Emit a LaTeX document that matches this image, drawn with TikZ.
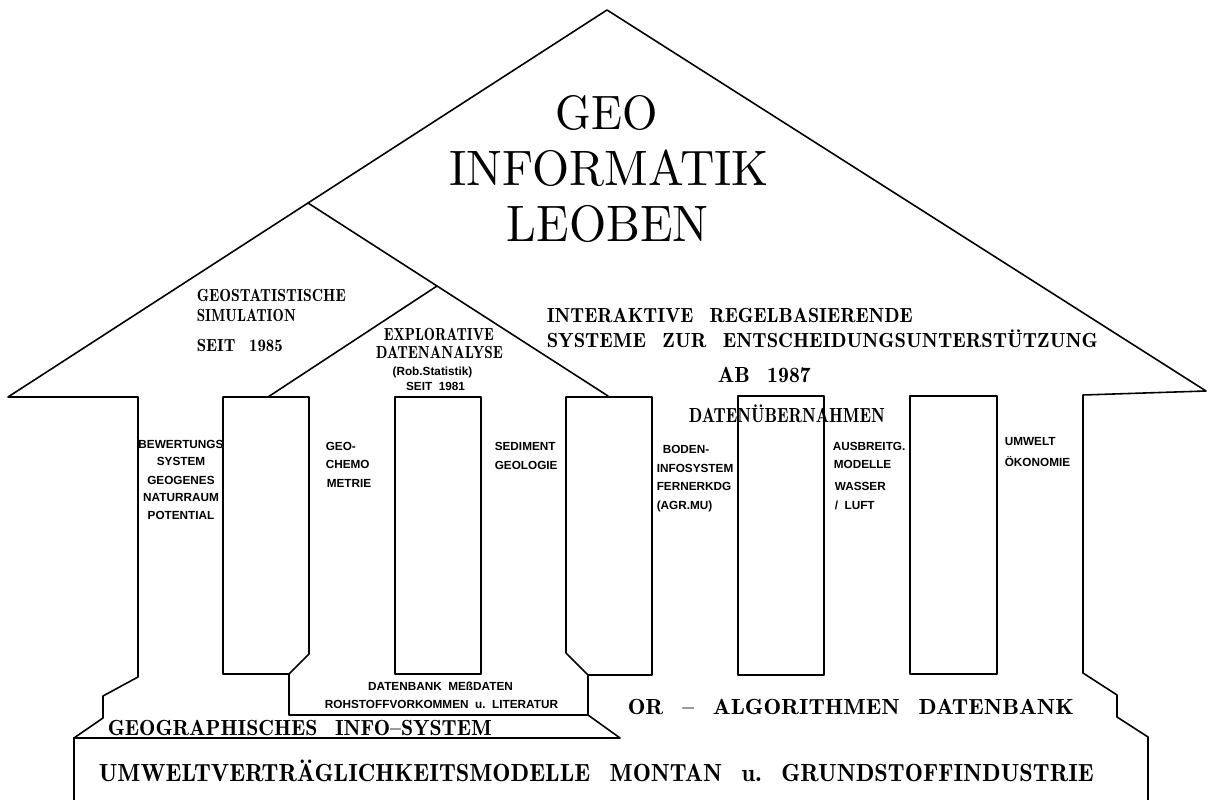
\documentclass[tikz,border=0pt]{standalone}
\usepackage{fontspec}
\usepackage{graphicx}
\newfontfamily\lsans{Liberation Sans}
\newfontfamily\semib{lmromandemi10-regular}[Extension=.otf]
\newlength\pxu
\setlength\pxu{0.02cm}
\newcommand\fit[3]{\resizebox{#1\pxu}{#2\pxu}{\vphantom{X}\smash{#3}}}
\newcommand\wsp{\hspace{0.8em}}
\begin{document}
\begin{tikzpicture}[x=0.02cm,y=-0.02cm, line width=0.9pt, line join=round, line cap=round,
  ser/.style={inner sep=0pt, anchor=base west},
  med/.style={ser, font=\semib},
  bld/.style={ser, font=\semib},
  lab/.style={inner sep=0pt, anchor=base west, font=\lsans\bfseries\fontsize{6.7}{8}\selectfont},
  labc/.style={lab, anchor=base}]
\fill[white] (0,0) rectangle (1208,800);
\useasboundingbox (0,0) rectangle (1208,800);

% outline: walls and main roof
\draw (74,800) -- (74,738) -- (103,718) -- (103,696) -- (138,677) -- (138,397) -- (8,397)
  -- (308,203) -- (607,10) -- (1206,391) -- (1083,395) -- (1083,673) -- (1117,695)
  -- (1117,717) -- (1148,737) -- (1148,800);
% inner roofs
\draw (308,203) -- (608,396);
\draw (437,286) -- (268,397);
% pillar 1, database box, pillar 3
\draw (289,674) -- (223,674) -- (223,397) -- (309,397) -- (309,654) -- (289,674)
  -- (289,715) -- (588,715) -- (588,675) -- (566,653) -- (566,397) -- (652,397)
  -- (652,675) -- (588,675);
% other pillars
\draw (395,397) rectangle (481,674);
\draw (738,396) rectangle (824,675);
\draw (910,396) rectangle (997,674);
% GIS base
\draw (74,738) -- (620,738) -- (588,715);

% titles
\node[ser] (geo) at (555,130) {\fit{102}{33}{GEO}};
\node[ser] (inf) at (449,186) {\fit{319}{34}{INFORMATIK}};
\node[ser] (leo) at (506,242) {\fit{202}{35}{LEOBEN}};

\node[med] (ir1) at (546,323) {\fit{366}{14}{INTERAKTIVE\wsp REGELBASIERENDE}};
\node[med] (ir2) at (546,348) {\fit{551}{14}{SYSTEME\wsp ZUR\wsp ENTSCHEIDUNGSUNTERSTÜTZUNG}};
\node[med] (ab) at (717,383) {\fit{93}{15}{AB\wsp 1987}};
\node[med] (dat) at (688,423) {\fit{196}{14}{DATENÜBERNAHMEN}};

\node[bld] (gs1) at (196,302) {\fit{149}{12}{GEOSTATISTISCHE}};
\node[bld] (gs2) at (196,322) {\fit{99}{12}{SIMULATION}};
\node[bld] (gs3) at (196,352) {\fit{86}{12}{SEIT\wsp 1985}};

\node[bld] (ex1) at (383,341) {\fit{110}{12}{EXPLORATIVE}};
\node[bld] (ex2) at (375,359) {\fit{127}{12}{DATENANALYSE}};
\node[labc] (ex3) at (432.5,376) {(Rob.Statistik)};
\node[labc] (ex4) at (435.5,391) {SEIT\ \ 1981};

\node[med] (gis) at (107,735) {\fit{384}{15}{GEOGRAPHISCHES\wsp INFO–SYSTEM}};
\node[med] (or) at (627,715) {\fit{446}{15}{OR\wsp –\wsp ALGORITHMEN\wsp DATENBANK}};
\node[med] (uvm) at (98,782) {\fit{995}{17}{UMWELTVERTRÄGLICHKEITSMODELLE\wsp MONTAN\wsp u.\wsp GRUNDSTOFFINDUSTRIE}};

% small labels
\node[labc] (bw1) at (181,448.5) {BEWERTUNGS};
\node[labc] (bw2) at (181,466) {SYSTEM};
\node[labc] (bw3) at (181,485) {GEOGENES};
\node[labc] (bw4) at (181,502) {NATURRAUM};
\node[labc] (bw5) at (181,520) {POTENTIAL};

\node[lab] (gc1) at (325,451) {GEO-};
\node[lab] (gc2) at (325,469) {CHEMO};
\node[lab] (gc3) at (326,488) {METRIE};

\node[lab] (sd1) at (494,451) {SEDIMENT};
\node[lab] (sd2) at (494,470) {GEOLOGIE};

\node[lab] (bo1) at (662,454) {BODEN-};
\node[lab] (bo2) at (656,473) {INFOSYSTEM};
\node[lab] (bo3) at (656,491) {FERNERKDG};
\node[lab] (bo4) at (656,510) {(AGR.MU)};

\node[lab] (au1) at (832,450.5) {AUSBREITG.};
\node[lab] (au2) at (833,469) {MODELLE};
\node[lab] (au3) at (834,491) {WASSER};
\node[lab] (au4) at (834,510) {/\ \ LUFT};

\node[lab] (uo1) at (1004,446) {UMWELT};
\node[lab] (uo2) at (1004,467) {ÖKONOMIE};

\node[labc] (db1) at (440.5,690) {DATENBANK\ \ MEßDATEN};
\node[labc] (db2) at (441.5,708) {ROHSTOFFVORKOMMEN\ \ u.\ \ LITERATUR};
\end{tikzpicture}
\end{document}
